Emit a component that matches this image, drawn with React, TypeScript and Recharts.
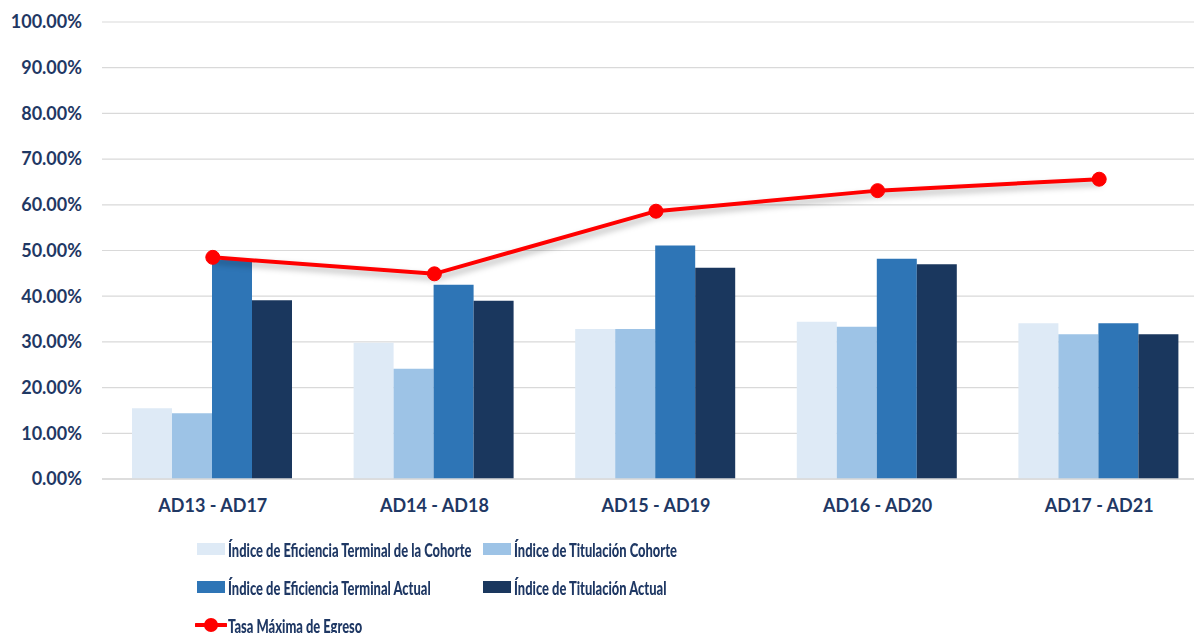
import React from "react";
import {
  ComposedChart,
  Bar,
  Line,
  XAxis,
  YAxis,
  CartesianGrid,
  Legend,
} from "recharts";

const categories = ["AD13 - AD17", "AD14 - AD18", "AD15 - AD19", "AD16 - AD20", "AD17 - AD21"];
const eficienciaCohorte = [15.5, 29.8, 32.8, 34.4, 34.1];
const titulacionCohorte = [14.4, 24.1, 32.8, 33.3, 31.7];
const eficienciaActual = [48.0, 42.5, 51.1, 48.2, 34.1];
const titulacionActual = [39.1, 39.0, 46.2, 47.0, 31.7];
const tasaMaxima = [48.5, 44.9, 58.6, 63.1, 65.6];
const yTicks = [0, 10, 20, 30, 40, 50, 60, 70, 80, 90, 100];

const TEXT = "#1F3864";
const FONT = "Lato, 'Noto Sans', sans-serif";

const SERIES = [
  { key: "efCohorte", name: "Índice de Eficiencia Terminal de la Cohorte", color: "#DEEAF6" },
  { key: "titCohorte", name: "Índice de Titulación Cohorte", color: "#9DC3E6" },
  { key: "efActual", name: "Índice de Eficiencia Terminal Actual", color: "#2E75B6" },
  { key: "titActual", name: "Índice de Titulación Actual", color: "#1A375E" },
];

const data = categories.map((name, i) => ({
  name,
  efCohorte: eficienciaCohorte[i],
  titCohorte: titulacionCohorte[i],
  efActual: eficienciaActual[i],
  titActual: titulacionActual[i],
  tasa: tasaMaxima[i],
}));

// two-column legend like the spreadsheet one; text squeezed to mimic a condensed font
const LegendBox = () => {
  const label = {
    display: "inline-block",
    color: TEXT,
    fontFamily: FONT,
    fontWeight: 900,
    fontSize: 19,
    marginLeft: 3,
    whiteSpace: "nowrap" as const,
    transform: "scaleX(0.68)",
    transformOrigin: "left center",
  };
  const swatch = (c: string) => (
    <span style={{ display: "inline-block", flexShrink: 0, width: 28, height: 12, background: c }} />
  );
  return (
    <div style={{ display: "grid", gridTemplateColumns: "286px 300px", rowGap: 14 }}>
      {SERIES.map((s) => (
        <div key={s.key} style={{ display: "flex", alignItems: "center", height: 24, overflow: "visible" }}>
          {swatch(s.color)}
          <span style={label}>{s.name}</span>
        </div>
      ))}
      <div style={{ display: "flex", alignItems: "center", height: 24, marginLeft: -2 }}>
        <svg width={32} height={16} style={{ flexShrink: 0 }}>
          <line x1={1} y1={8} x2={31} y2={8} stroke="#FF0000" strokeWidth={4} strokeLinecap="round" />
          <circle cx={16} cy={8} r={7} fill="#FF0000" />
        </svg>
        <span style={{ ...label, marginLeft: 1 }}>Tasa Máxima de Egreso</span>
      </div>
    </div>
  );
};

export default function App() {
  return (
    <div
      style={{
        position: "absolute",
        left: 0,
        top: 0,
        width: 1194,
        height: 633,
        overflow: "hidden",
        background: "#fff",
      }}
    >
      <style>{".tasa-line { filter: drop-shadow(2px 4px 3px rgba(0,0,0,0.3)); }"}</style>
      <ComposedChart
        width={1210}
        height={633}
        data={data}
        margin={{ top: 22, right: 0, bottom: 94, left: 12 }}
        barCategoryGap={30}
        barGap={0}
      >
        <CartesianGrid vertical={false} stroke="#D9D9D9" strokeWidth={1.2} />
        <XAxis
          dataKey="name"
          height={60}
          tickLine={false}
          axisLine={{ stroke: "#D9D9D9", strokeWidth: 1.5 }}
          tickSize={8}
          tickMargin={12}
          tick={{ fill: TEXT, fontFamily: FONT, fontWeight: 700, fontSize: 18 }}
        />
        <YAxis
          width={90}
          domain={[0, 100]}
          ticks={yTicks}
          interval={0}
          axisLine={false}
          tickLine={false}
          tickSize={8}
          tickMargin={12}
          tickFormatter={(v: number) => `${v.toFixed(2)}%`}
          tick={{ fill: TEXT, fontFamily: FONT, fontWeight: 700, fontSize: 18 }}
        />
        {SERIES.map((s) => (
          <Bar key={s.key} dataKey={s.key} name={s.name} fill={s.color} isAnimationActive={false} />
        ))}
        <Line
          dataKey="tasa"
          name="Tasa Máxima de Egreso"
          className="tasa-line"
          stroke="#FF0000"
          strokeWidth={4}
          dot={{ r: 7, fill: "#FF0000", stroke: "#FF0000", strokeWidth: 1 }}
          activeDot={false}
          isAnimationActive={false}
        />
        <Legend
          layout="horizontal"
          verticalAlign="middle"
          align="center"
          content={<LegendBox />}
          wrapperStyle={{ position: "absolute", left: 197, top: 537, width: 760 }}
        />
      </ComposedChart>
    </div>
  );
}
